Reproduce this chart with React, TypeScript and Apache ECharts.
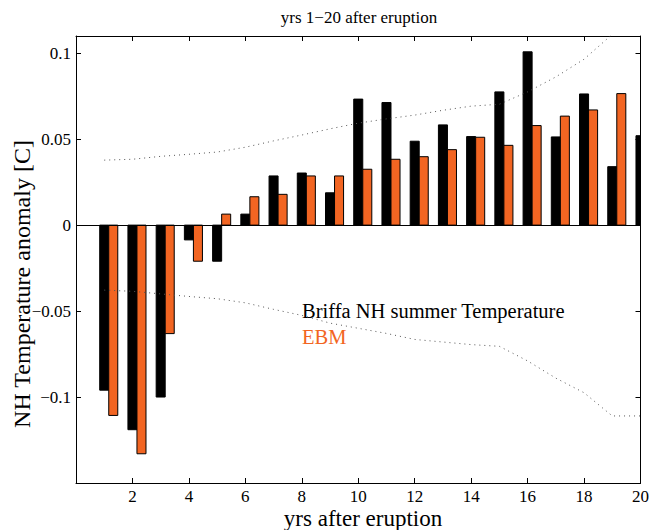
import { useEffect, useRef } from "react";
import * as echarts from "echarts";

const years = [1, 2, 3, 4, 5, 6, 7, 8, 9, 10, 11, 12, 13, 14, 15, 16, 17, 18, 19, 20];
const briffa = [-0.096, -0.119, -0.1, -0.0086, -0.021, 0.0064, 0.0286, 0.0303, 0.0188, 0.0733, 0.0713, 0.0488, 0.0583, 0.0515, 0.0775, 0.1008, 0.0513, 0.0763, 0.034, 0.052];
const ebm = [-0.1107, -0.133, -0.0631, -0.021, 0.0064, 0.0165, 0.0179, 0.0286, 0.0286, 0.0325, 0.0383, 0.0398, 0.0439, 0.0511, 0.0464, 0.0579, 0.0634, 0.067, 0.0765, null];
const upperBound = [0.0378, 0.0383, 0.04, 0.0412, 0.0425, 0.0453, 0.049, 0.0524, 0.056, 0.0593, 0.0618, 0.064, 0.0668, 0.0692, 0.0703, 0.0775, 0.0862, 0.0965, 0.111, 0.111];
const lowerBound = [-0.0378, -0.0385, -0.04, -0.0415, -0.0428, -0.0452, -0.049, -0.0525, -0.057, -0.06, -0.063, -0.0665, -0.068, -0.0695, -0.0705, -0.079, -0.089, -0.0975, -0.111, -0.111];
const xTicks = [2, 4, 6, 8, 10, 12, 14, 16, 18, 20];
const yTicks = [-0.1, -0.05, 0, 0.05, 0.1];

const SERIF = "Liberation Serif, Times New Roman, serif";
const ORANGE = "#f26522";
const HALF = 0.16;

function barRenderer(offset: number, color: string) {
  return (params: any, api: any) => {
    const x = api.value(0) as number;
    const v = api.value(1) as number;
    if (v == null || isNaN(v)) return null;
    const a = api.coord([x + offset - HALF, 0]);
    const b = api.coord([x + offset + HALF, v]);
    return {
      type: "rect",
      shape: {
        x: a[0],
        y: Math.min(a[1], b[1]),
        width: b[0] - a[0],
        height: Math.abs(b[1] - a[1]),
      },
      style: { fill: color, stroke: "#000", lineWidth: 1 },
    };
  };
}

function fmtY(v: number) {
  const hit = yTicks.find((t) => Math.abs(t - v) < 1e-6);
  if (hit === undefined) return "";
  if (hit === 0) return "0";
  const s = String(Math.abs(hit));
  return hit < 0 ? "\u2212" + s : s;
}

function fmtX(v: number) {
  return xTicks.some((t) => Math.abs(t - v) < 1e-6) ? String(Math.round(v)) : "";
}

export default function App() {
  const ref = useRef<HTMLDivElement>(null);
  useEffect(() => {
    if (!ref.current) return;
    const chart = echarts.init(ref.current, undefined, { renderer: "svg" });
    const gridLeft = 76;
    const gridTop = 36;
    const gridW = 566;
    const gridH = 447;
    const axisCommon = {
      type: "value" as const,
      splitLine: { show: false },
      axisLine: { show: true, onZero: false, lineStyle: { color: "#000", width: 1 } },
      axisTick: { show: true, inside: true, length: 5, lineStyle: { color: "#000" } },
    };
    chart.setOption({
      animation: false,
      backgroundColor: "#fff",
      textStyle: { fontFamily: SERIF },
      grid: { left: gridLeft, top: gridTop, width: gridW, height: gridH },
      xAxis: [
        {
          ...axisCommon,
          position: "bottom",
          min: 0,
          max: 20,
          interval: 2,
          axisLabel: { formatter: fmtX, color: "#000", fontFamily: SERIF, fontSize: 17, margin: 5 },
        },
        {
          ...axisCommon,
          position: "top",
          min: 0,
          max: 20,
          interval: 2,
          axisLabel: { show: false },
        },
      ],
      yAxis: [
        {
          ...axisCommon,
          position: "left",
          min: -0.15,
          max: 0.11,
          interval: 0.05,
          axisLabel: { formatter: fmtY, color: "#000", fontFamily: SERIF, fontSize: 17, margin: 5 },
        },
        {
          ...axisCommon,
          position: "right",
          min: -0.15,
          max: 0.11,
          interval: 0.05,
          axisLabel: { show: false },
        },
      ],
      series: [
        {
          type: "custom",
          name: "Briffa NH summer Temperature",
          clip: true,
          renderItem: barRenderer(0, "#000"),
          encode: { x: 0, y: 1 },
          data: years.map((y, i) => [y, briffa[i]]),
          markLine: {
            silent: true,
            symbol: "none",
            label: { show: false },
            lineStyle: { color: "#000", width: 1, type: "solid" },
            data: [{ yAxis: 0 }],
          },
        },
        {
          type: "custom",
          name: "EBM",
          clip: true,
          renderItem: barRenderer(2 * HALF, ORANGE),
          encode: { x: 0, y: 1 },
          data: years
            .map((y, i) => [y, ebm[i]])
            .filter((d) => d[1] !== null),
        },
        {
          type: "line",
          clip: true,
          symbol: "none",
          lineStyle: { color: "#555", width: 1, type: [1, 4] },
          data: years.map((y, i) => [y, upperBound[i]]),
        },
        {
          type: "line",
          clip: true,
          symbol: "none",
          lineStyle: { color: "#555", width: 1, type: [1, 4] },
          data: years.map((y, i) => [y, lowerBound[i]]),
        },
      ],
      graphic: [
        {
          type: "text",
          x: 359,
          y: 17,
          style: {
            text: "yrs 1\u221220 after eruption",
            font: `17px ${SERIF}`,
            fill: "#000",
            align: "center",
            verticalAlign: "middle",
          },
        },
        {
          type: "text",
          x: 363,
          y: 518,
          style: {
            text: "yrs after eruption",
            font: `23px ${SERIF}`,
            fill: "#000",
            align: "center",
            verticalAlign: "middle",
          },
        },
        {
          type: "text",
          x: 22,
          y: 284,
          rotation: Math.PI / 2,
          style: {
            text: "NH Temperature anomaly [C]",
            font: `24px ${SERIF}`,
            fill: "#000",
            align: "center",
            verticalAlign: "middle",
          },
        },
        {
          type: "text",
          x: 302,
          y: 311,
          style: {
            text: "Briffa NH summer Temperature",
            font: `20.5px ${SERIF}`,
            fill: "#000",
            align: "left",
            verticalAlign: "middle",
          },
        },
        {
          type: "text",
          x: 302,
          y: 337,
          style: {
            text: "EBM",
            font: `20.5px ${SERIF}`,
            fill: ORANGE,
            align: "left",
            verticalAlign: "middle",
          },
        },
      ],
    });
    return () => chart.dispose();
  }, []);
  return (
    <div
      ref={ref}
      style={{ position: "fixed", left: 0, top: 0, width: 652, height: 530, background: "#fff" }}
    />
  );
}
